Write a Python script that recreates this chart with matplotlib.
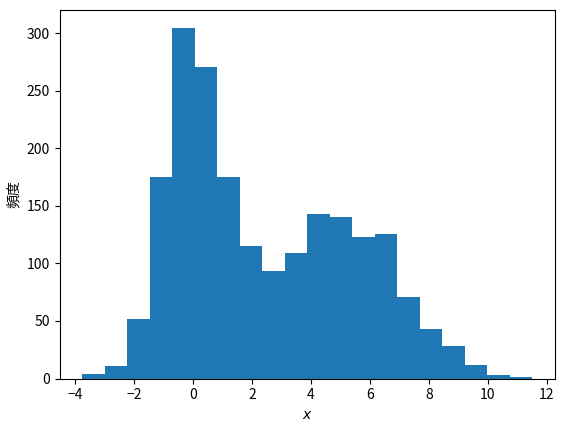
import numpy as np
import matplotlib
matplotlib.use("Agg")
import matplotlib.pyplot as plt

plt.rcParams['font.family'] = ['Noto Sans CJK JP', 'DejaVu Sans']
plt.rcParams['axes.unicode_minus'] = True

# Histogram data (20 bins)
bin_min = -3.75
bin_max = 11.51
n_bins = 20
counts = [4, 11, 52, 175, 305, 271, 175, 115, 93, 109,
          143, 140, 123, 126, 71, 43, 28, 12, 3, 1]
xlabel = "$x$"
ylabel = "頻度"

edges = np.linspace(bin_min, bin_max, n_bins + 1)

fig = plt.figure(figsize=(5.65, 4.30), dpi=100)
ax = fig.add_axes([59.6/565, 1 - 378.5/430, (555 - 59.6)/565, (378.5 - 10)/430])
ax.bar(edges[:-1], counts, width=np.diff(edges), align='edge',
       color='#1f77b4', linewidth=0)
ax.set_xlabel(xlabel)
ax.set_ylabel(ylabel)
ax.set_xticks([-4, -2, 0, 2, 4, 6, 8, 10, 12])
ax.set_yticks([0, 50, 100, 150, 200, 250, 300])
fig.savefig("out.png", dpi=100)
